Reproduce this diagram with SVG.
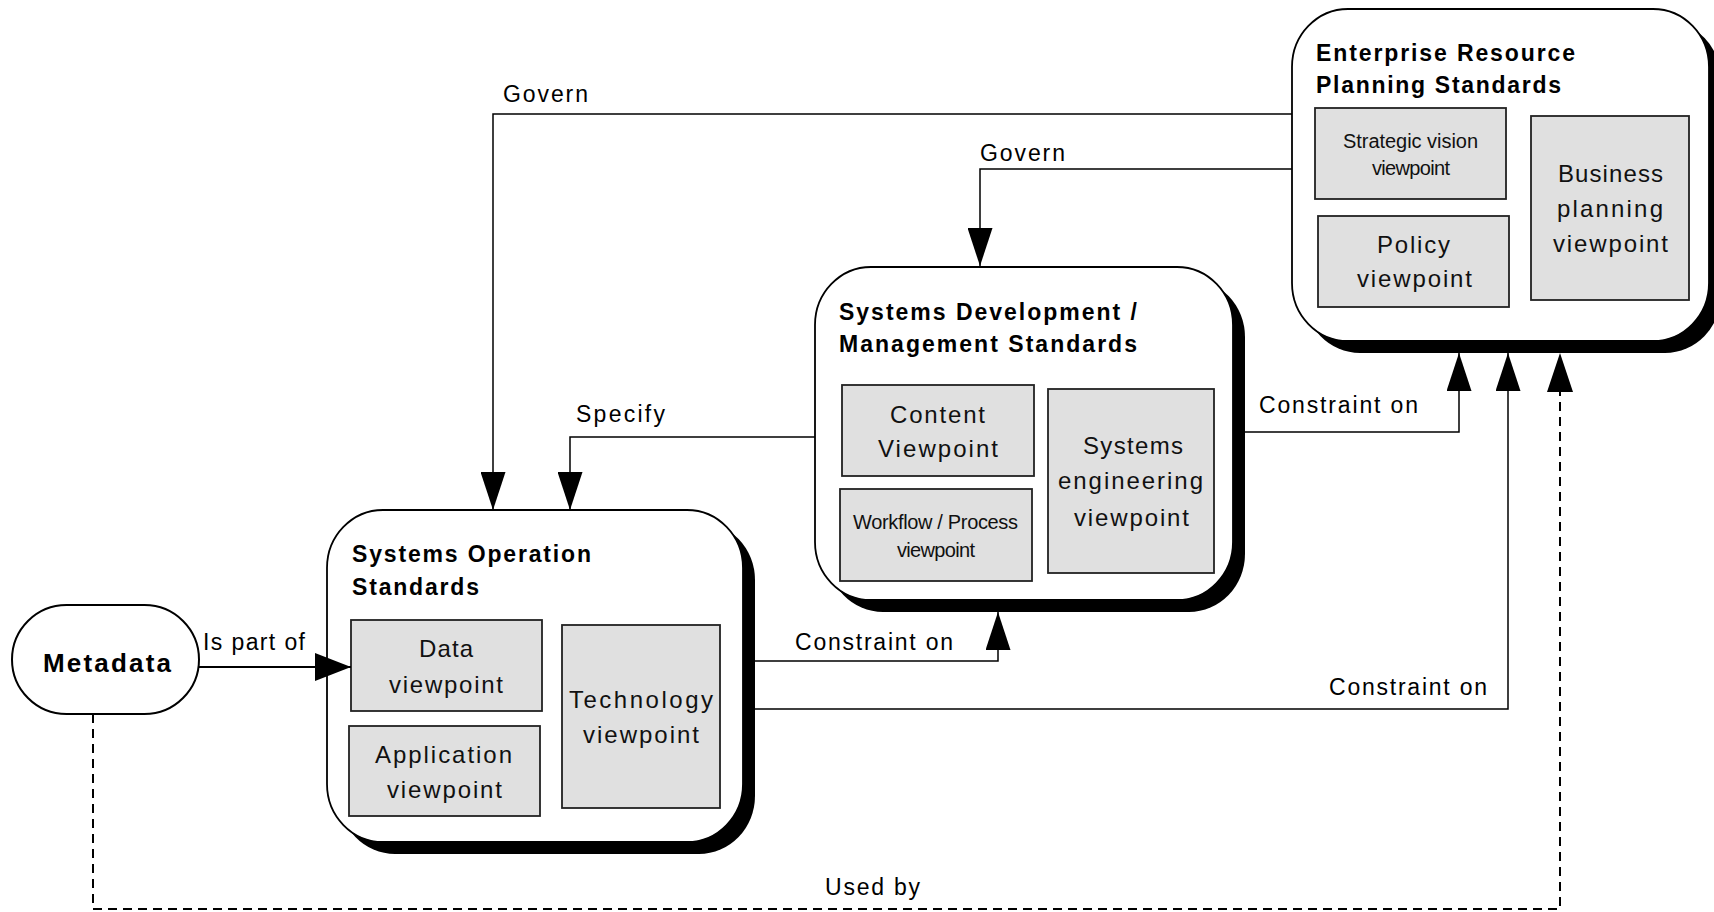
<svg xmlns="http://www.w3.org/2000/svg" width="1714" height="912" viewBox="0 0 1714 912">
<style>
.bg{fill:#ffffff}
.shadow{fill:#000000}
.box{fill:#ffffff;stroke:#000000;stroke-width:1.8}
.vp{fill:#e0e0e0;stroke:#222222;stroke-width:1.8}
.title{font-family:"Liberation Sans",Arial,sans-serif;font-weight:bold;font-size:23px;fill:#000}
.meta{font-family:"Liberation Sans",Arial,sans-serif;font-weight:bold;font-size:26px;fill:#000}
.t{font-family:"Liberation Sans",Arial,sans-serif;font-size:24px;fill:#111}
.s{font-family:"Liberation Sans",Arial,sans-serif;font-size:20px;fill:#111}
.lbl{font-family:"Liberation Sans",Arial,sans-serif;font-size:23px;fill:#000}
.conn{fill:none;stroke:#000;stroke-width:1.5}
.dash{fill:none;stroke:#000;stroke-width:2;stroke-dasharray:9 6}
</style>
<defs>
<marker id="arr" viewBox="0 0 38 25" refX="38" refY="12.5" markerWidth="38" markerHeight="25" markerUnits="userSpaceOnUse" orient="auto">
<path d="M0,0 L38,12.5 L0,25 Z" fill="#000"/>
</marker>
<marker id="arrBig" viewBox="0 0 36 28" refX="36" refY="14" markerWidth="36" markerHeight="28" markerUnits="userSpaceOnUse" orient="auto">
<path d="M0,0 L36,14 L0,28 Z" fill="#000"/>
</marker>
</defs>
<rect class="bg" x="0" y="0" width="1714" height="912"/>

<g id="erp">
<rect class="shadow" x="1304" y="21" width="417" height="332" rx="56" ry="58"/>
<rect class="box" x="1292" y="9" width="417" height="332" rx="56" ry="58"/>
<text class="title" x="1316" y="61" textLength="259">Enterprise Resource</text>
<text class="title" x="1316" y="93" textLength="245">Planning Standards</text>
<g id="erp-strategic">
<rect class="vp" x="1315" y="108" width="191" height="91"/>
<text class="s" x="1343" y="148" textLength="135">Strategic vision</text>
<text class="s" x="1372" y="175" textLength="78">viewpoint</text>
</g>
<g id="erp-policy">
<rect class="vp" x="1318" y="216" width="191" height="91"/>
<text class="t" x="1377" y="253" textLength="73">Policy</text>
<text class="t" x="1357" y="287" textLength="115">viewpoint</text>
</g>
<g id="erp-business">
<rect class="vp" x="1531" y="116" width="158" height="184"/>
<text class="t" x="1558" y="182" textLength="105">Business</text>
<text class="t" x="1557" y="217" textLength="106">planning</text>
<text class="t" x="1553" y="252" textLength="115">viewpoint</text>
</g>
</g>

<g id="sdm">
<rect class="shadow" x="827" y="279" width="418" height="333" rx="56" ry="58"/>
<rect class="box" x="815" y="267" width="418" height="333" rx="56" ry="58"/>
<text class="title" x="839" y="320" textLength="298">Systems Development /</text>
<text class="title" x="839" y="352" textLength="298">Management Standards</text>
<g id="sdm-content">
<rect class="vp" x="842" y="385" width="192" height="91"/>
<text class="t" x="890" y="423" textLength="95">Content</text>
<text class="t" x="878" y="457" textLength="120">Viewpoint</text>
</g>
<g id="sdm-workflow">
<rect class="vp" x="840" y="489" width="192" height="92"/>
<text class="s" x="853" y="529" textLength="165">Workflow / Process</text>
<text class="s" x="897" y="557" textLength="78">viewpoint</text>
</g>
<g id="sdm-syseng">
<rect class="vp" x="1048" y="389" width="166" height="184"/>
<text class="t" x="1083" y="454" textLength="100">Systems</text>
<text class="t" x="1058" y="489" textLength="145">engineering</text>
<text class="t" x="1074" y="526" textLength="115">viewpoint</text>
</g>
</g>

<g id="sop">
<rect class="shadow" x="339" y="522" width="416" height="332" rx="56" ry="58"/>
<rect class="box" x="327" y="510" width="416" height="332" rx="56" ry="58"/>
<text class="title" x="352" y="562" textLength="239">Systems Operation</text>
<text class="title" x="352" y="595" textLength="127">Standards</text>
<g id="sop-data">
<rect class="vp" x="351" y="620" width="191" height="91"/>
<text class="t" x="419" y="657" textLength="54">Data</text>
<text class="t" x="389" y="693" textLength="114">viewpoint</text>
</g>
<g id="sop-app">
<rect class="vp" x="349" y="726" width="191" height="90"/>
<text class="t" x="375" y="763" textLength="137">Application</text>
<text class="t" x="387" y="798" textLength="115">viewpoint</text>
</g>
<g id="sop-tech">
<rect class="vp" x="562" y="625" width="158" height="183"/>
<text class="t" x="569" y="708" textLength="144">Technology</text>
<text class="t" x="583" y="743" textLength="116">viewpoint</text>
</g>
</g>

<g id="metadata">
<rect class="box" x="12" y="605" width="187" height="109" rx="54.5" ry="54.5" style="stroke-width:2"/>
<text class="meta" x="43" y="672" textLength="128">Metadata</text>
</g>

<g id="connectors">
<path class="conn" d="M1292,114 H493 V510" marker-end="url(#arr)"/>
<path class="conn" d="M1292,169 H980 V266" marker-end="url(#arr)"/>
<path class="conn" d="M815,437 H570 V510" marker-end="url(#arr)"/>
<path class="conn" d="M1245,432 H1459 V353" marker-end="url(#arr)"/>
<path class="conn" d="M755,661 H998 V612" marker-end="url(#arr)"/>
<path class="conn" d="M755,709 H1508 V353" marker-end="url(#arr)"/>
<path class="conn" d="M199,667 H351" marker-end="url(#arrBig)" style="stroke-width:2"/>
<path class="dash" d="M93,714 V909 H1560 V392"/>
<path d="M1547,392 L1573,392 L1560,353 Z" fill="#000"/>
<text class="lbl" x="503" y="102" textLength="85">Govern</text>
<text class="lbl" x="980" y="161" textLength="85">Govern</text>
<text class="lbl" x="576" y="422" textLength="89">Specify</text>
<text class="lbl" x="1259" y="413" textLength="159">Constraint on</text>
<text class="lbl" x="795" y="650" textLength="158">Constraint on</text>
<text class="lbl" x="1329" y="695" textLength="158">Constraint on</text>
<text class="lbl" x="203" y="650" textLength="102">Is part of</text>
<text class="lbl" x="825" y="895" textLength="95">Used by</text>
</g>
</svg>
